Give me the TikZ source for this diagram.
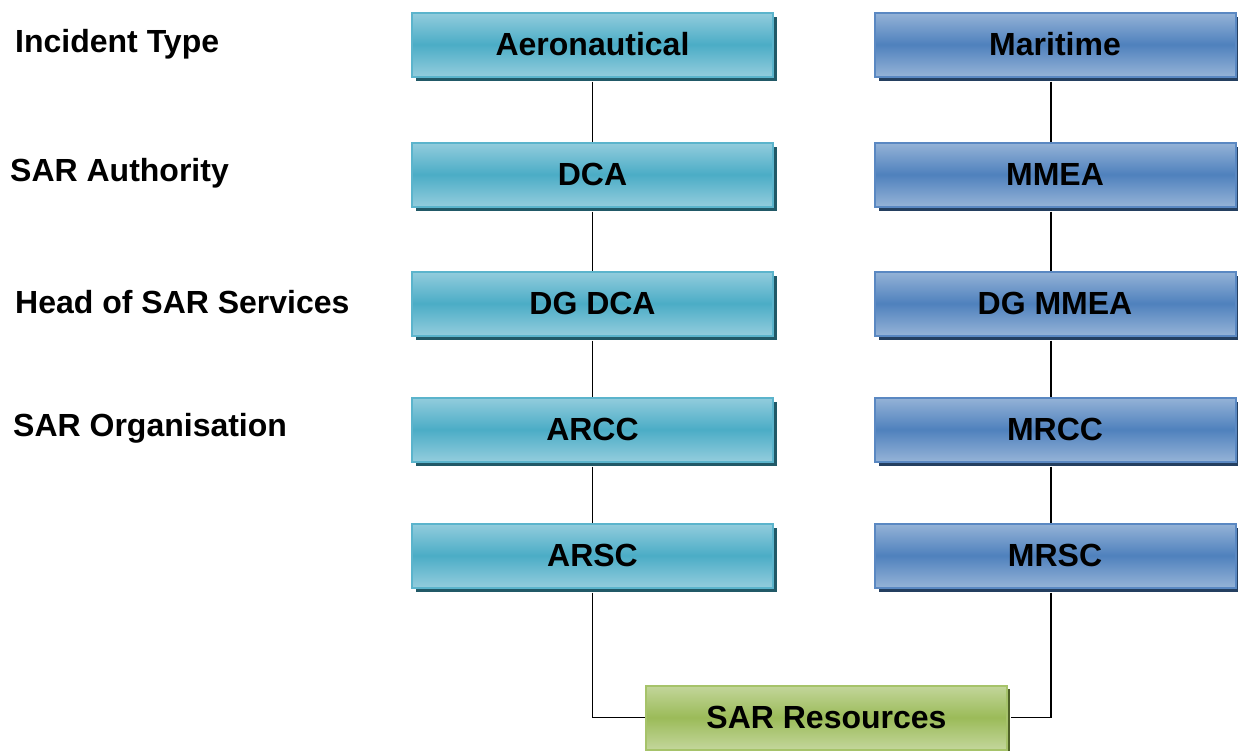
\documentclass[tikz,border=0pt]{standalone}
\usepackage{fontspec}
\setmainfont{Liberation Sans}
\usetikzlibrary{shadows}
\definecolor{aerolight}{HTML}{93CDDD}
\definecolor{aeromid}{HTML}{4BACC6}
\definecolor{aeroedge}{HTML}{5BB4CC}
\definecolor{aeroshadow}{HTML}{215967}
\definecolor{marlight}{HTML}{95B3D7}
\definecolor{marmid}{HTML}{4F81BD}
\definecolor{maredge}{HTML}{5A88C2}
\definecolor{marshadow}{HTML}{243F60}
\definecolor{reslight}{HTML}{C3D69B}
\definecolor{resmid}{HTML}{9BBB59}
\definecolor{resedge}{HTML}{A6C36A}
\definecolor{resshadow}{HTML}{4F6228}
\tikzset{
  boxbase/.style={rectangle, minimum width=361pt, minimum height=64pt, inner sep=0pt,
    line width=2pt, font=\fontsize{32}{35}\selectfont\bfseries, text=black},
  aerobox/.style={boxbase, draw=aeroedge, top color=aerolight, bottom color=aerolight, middle color=aeromid,
    drop shadow={shadow xshift=4pt, shadow yshift=-4pt, fill=aeroshadow, opacity=1}},
  marbox/.style={boxbase, draw=maredge, top color=marlight, bottom color=marlight, middle color=marmid,
    drop shadow={shadow xshift=4pt, shadow yshift=-4pt, fill=marshadow, opacity=1}},
  resbox/.style={boxbase, draw=resedge, top color=reslight, bottom color=reslight, middle color=resmid,
    drop shadow={shadow xshift=3pt, shadow yshift=-3pt, fill=resshadow, opacity=1}},
  rowlabel/.style={anchor=base west, inner sep=0pt, font=\fontsize{32}{35}\selectfont\bfseries},
  link/.style={draw=black, line width=1.3pt}
}
\begin{document}
\begin{tikzpicture}[x=1pt, y=-1pt]
\useasboundingbox (0,0) rectangle (1238,750);
% row labels
\node[rowlabel] (l1) at (15,52) {Incident Type};
\node[rowlabel] (l2) at (10,181) {SAR Authority};
\node[rowlabel] (l3) at (15,313) {Head of SAR Services};
\node[rowlabel] (l4) at (13,436) {SAR Organisation};
% aeronautical column
\node[aerobox] (a1) at (592.5,44.5) {Aeronautical};
\node[aerobox] (a2) at (592.5,174.5) {DCA};
\node[aerobox] (a3) at (592.5,303.5) {DG DCA};
\node[aerobox] (a4) at (592.5,429.5) {ARCC};
\node[aerobox] (a5) at (592.5,555.5) {ARSC};
% maritime column
\node[marbox] (m1) at (1055,44.5) {Maritime};
\node[marbox] (m2) at (1055,174.5) {MMEA};
\node[marbox] (m3) at (1055,303.5) {DG MMEA};
\node[marbox] (m4) at (1055,429.5) {MRCC};
\node[marbox] (m5) at (1055,555.5) {MRSC};
% resources
\node[resbox] (r) at (826.5,717.5) {SAR Resources};
% connectors
\draw[link] ([yshift=-4pt]a1.south) -- (a2.north);
\draw[link] ([yshift=-4pt]a2.south) -- (a3.north);
\draw[link] ([yshift=-4pt]a3.south) -- (a4.north);
\draw[link] ([yshift=-4pt]a4.south) -- (a5.north);
\draw[link] ([yshift=-4pt]a5.south) |- (r.west);
\draw[link] ([xshift=-4pt,yshift=-4pt]m1.south) -- ([xshift=-4pt]m2.north);
\draw[link] ([xshift=-4pt,yshift=-4pt]m2.south) -- ([xshift=-4pt]m3.north);
\draw[link] ([xshift=-4pt,yshift=-4pt]m3.south) -- ([xshift=-4pt]m4.north);
\draw[link] ([xshift=-4pt,yshift=-4pt]m4.south) -- ([xshift=-4pt]m5.north);
\draw[link] ([xshift=-4pt,yshift=-4pt]m5.south) |- ([xshift=3pt]r.east);
\end{tikzpicture}
\end{document}
